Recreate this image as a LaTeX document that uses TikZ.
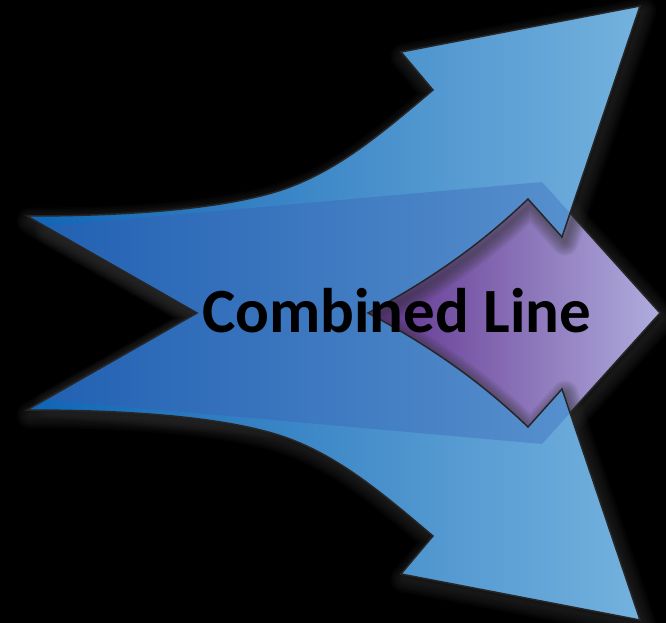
\documentclass[tikz,border=0pt]{standalone}
\usepackage{fontspec}
\setmainfont{Carlito}
\definecolor{blueL}{HTML}{0F64B4}
\definecolor{blueM}{HTML}{2880C4}
\definecolor{blueR}{HTML}{74B2DE}
\definecolor{purL}{HTML}{5E2E8C}
\definecolor{purM}{HTML}{7E56A8}
\definecolor{purR}{HTML}{B0AEDE}
\definecolor{bandL}{HTML}{2260B2}
\definecolor{bandM}{HTML}{4862AA}
\definecolor{bandR}{HTML}{6098D2}
\definecolor{edgec}{HTML}{262626}
\definecolor{haloc}{HTML}{333333}
\def\bluepath{(27,216) .. controls (150,216) and (240,206) .. (290,187) .. controls (340,168) and (380,135) .. (433,90) -- (401,52) -- (640,6) -- (562,237) -- (528,199) .. controls (480,245) and (430,280) .. (368,313) .. controls (430,346) and (480,381) .. (528,427) -- (562,389) -- (640,620) -- (401,574) -- (433,536) .. controls (380,491) and (340,458) .. (290,439) .. controls (240,420) and (150,410) .. (27,410) -- (197,313) -- cycle}
\def\bandpath{(45,226.4) -- (542,182) -- (660,313) -- (542,444) -- (45,399.6) -- (199,313) -- cycle}
\tikzset{
  halo/.style={draw=haloc, draw opacity=0.08, line join=round},
  edge/.style={draw=edgec, line width=1.5pt, line join=miter},
  label/.style={font=\bfseries\fontsize{63}{63}\selectfont, text=black, inner sep=0pt, anchor=base}
}
\begin{document}
\begin{tikzpicture}[x=1pt, y=-1pt]
\useasboundingbox (0,0) rectangle (666,623);
\fill[black] (0,0) rectangle (666,623);
% halo of the purple band
\begin{scope}[shift={(3,5)}]
\foreach \w in {3,6,...,27}{\draw[halo, line width=\w pt] \bandpath;}
\end{scope}
% purple band
\begin{scope}
\clip \bandpath;
\shade[left color=purL, middle color=purM, right color=purR] (362,170) rectangle (662,456);
\end{scope}
\draw[edge] \bandpath;
% halo of the blue arrows
\begin{scope}[shift={(3,5)}]
\foreach \w in {3,6,...,27}{\draw[halo, line width=\w pt] \bluepath;}
\end{scope}
% blue arrows
\shade[left color=blueL, middle color=blueM, right color=blueR] \bluepath;
% band seen through the blue arrows
\begin{scope}
\clip \bluepath;
\shade[left color=bandL, middle color=bandM, right color=bandR] \bandpath;
\end{scope}
\draw[edge] \bluepath;
\node[label] (t) at (396.5,332) {Combined Line};
\end{tikzpicture}
\end{document}
